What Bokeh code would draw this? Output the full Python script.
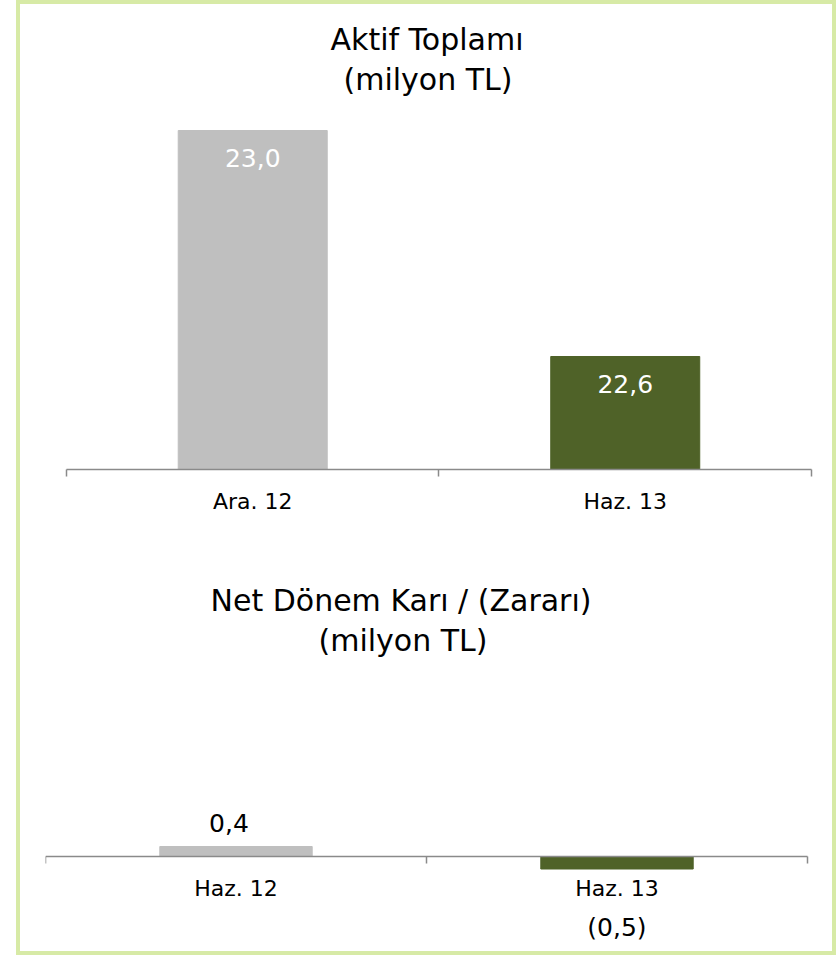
from bokeh.plotting import figure
from bokeh.models import ColumnDataSource, LabelSet, LinearAxis, FixedTicker, Range1d, Title
from bokeh.core.properties import value
from bokeh.layouts import column
from bokeh.embed import file_html
from bokeh.resources import INLINE

# ---- data ----
top_categories = ["Ara. 12", "Haz. 13"]
top_values = [23.0, 22.6]
top_axis_min = 22.4
top_title = ["Aktif Toplamı", "(milyon TL)"]

bottom_categories = ["Haz. 12", "Haz. 13"]
bottom_values = [0.4, -0.5]
bottom_title = ["Net Dönem Karı / (Zararı)", "(milyon TL)"]

bar_colors = ["#bfbfbf", "#4f6228"]

FONT = "DejaVu Sans"
AXIS_COLOR = "#8a8a8a"
BORDER_COLOR = "#d7eaa6"

FIG_W = 812
MB_LEFT, MB_RIGHT = 25, 21


def fmt(v):
    s = f"{abs(v):.1f}".replace(".", ",")
    return f"({s})" if v < 0 else s


def base_fig(cats, title_lines, title_offsets, height, mbt, mbb,
             x_pad_left, x_pad_right, y0, y1):
    n = len(cats)
    p = figure(width=FIG_W, height=height,
               x_range=Range1d(-0.5 - x_pad_left, n - 0.5 + x_pad_right),
               y_range=Range1d(y0, y1),
               x_axis_location=None, y_axis_location=None,
               toolbar_location=None, output_backend="svg",
               min_border_left=MB_LEFT, min_border_right=MB_RIGHT,
               min_border_top=mbt, min_border_bottom=mbb,
               title=None)
    p.outline_line_color = None
    p.background_fill_color = "white"
    p.border_fill_color = "white"
    p.xgrid.visible = False
    p.ygrid.visible = False
    # title lines are stacked from the frame upward
    pairs = list(zip(title_lines, title_offsets))
    for i, (line, off) in enumerate(reversed(pairs)):
        t = Title(text=line, align="left", offset=off, text_font=FONT,
                  text_font_size="30px", text_font_style="normal",
                  text_color="black", standoff=0 if i else 6)
        p.add_layout(t, "above")

    ax = LinearAxis(
        ticker=FixedTicker(ticks=list(range(n)),
                           minor_ticks=[i - 0.5 for i in range(n + 1)]),
        major_label_overrides={i: c for i, c in enumerate(cats)},
        bounds=(-0.5, n - 0.5),
    )
    ax.axis_line_color = AXIS_COLOR
    ax.axis_line_width = 1.5
    ax.major_tick_line_color = None
    ax.minor_tick_line_color = AXIS_COLOR
    ax.minor_tick_line_width = 1.5
    ax.minor_tick_in = 0
    ax.minor_tick_out = 7
    ax.major_tick_out = 7
    ax.major_tick_in = 0
    ax.major_label_standoff = 12
    ax.major_label_text_font = FONT
    ax.major_label_text_font_size = "22px"
    ax.major_label_text_color = "black"
    return p, ax


# ---- top chart ----
top_src = ColumnDataSource(dict(
    x=list(range(len(top_categories))),
    top=top_values,
    color=bar_colors,
    label=[fmt(v) for v in top_values],
))
p1, ax1 = base_fig(top_categories, top_title, [285, 298], 516, 95, 51,
                   21 / 373, 0,
                   top_axis_min, top_axis_min + 370 / 565)
p1.vbar(x="x", top="top", bottom=top_axis_min, width=0.4, color="color",
        source=top_src)
p1.add_layout(ax1, "below")
p1.add_layout(LabelSet(x="x", y="top", text="label", source=top_src,
                       y_offset=-27, text_align="center", text_baseline="middle",
                       text_color="white", text_font=value(FONT),
                       text_font_size="25px"))

# ---- bottom chart ----
bot_x = list(range(len(bottom_categories)))
bot_src = ColumnDataSource(dict(x=bot_x, top=bottom_values, color=bar_colors))
pos_src = ColumnDataSource(dict(
    x=[x for x, v in zip(bot_x, bottom_values) if v >= 0],
    y=[v for v in bottom_values if v >= 0],
    label=[fmt(v) for v in bottom_values if v >= 0],
))
neg_src = ColumnDataSource(dict(
    x=[x for x, v in zip(bot_x, bottom_values) if v < 0],
    y=[v for v in bottom_values if v < 0],
    label=[fmt(v) for v in bottom_values if v < 0],
))
p2, ax2 = base_fig(bottom_categories, bottom_title, [165, 273], 431, 140, 0,
                   0, 4 / 381, -95 / 25, 196 / 25)
p2.vbar(x="x", top="top", bottom=0, width=0.4, color="color", source=bot_src)
ax2.fixed_location = 0
p2.add_layout(ax2, "below")
p2.add_layout(LabelSet(x="x", y="y", text="label", source=pos_src,
                       x_offset=-7, y_offset=24, text_align="center",
                       text_baseline="middle", text_color="black",
                       text_font=value(FONT), text_font_size="25px"))
p2.add_layout(LabelSet(x="x", y="y", text="label", source=neg_src,
                       y_offset=-58, text_align="center",
                       text_baseline="middle", text_color="black",
                       text_font=value(FONT), text_font_size="25px"))

layout = column(p1, p2, styles={
    "border": f"4px solid {BORDER_COLOR}",
    "margin-left": "16px",
})

open("out.html", "w").write(file_html(layout, INLINE))
